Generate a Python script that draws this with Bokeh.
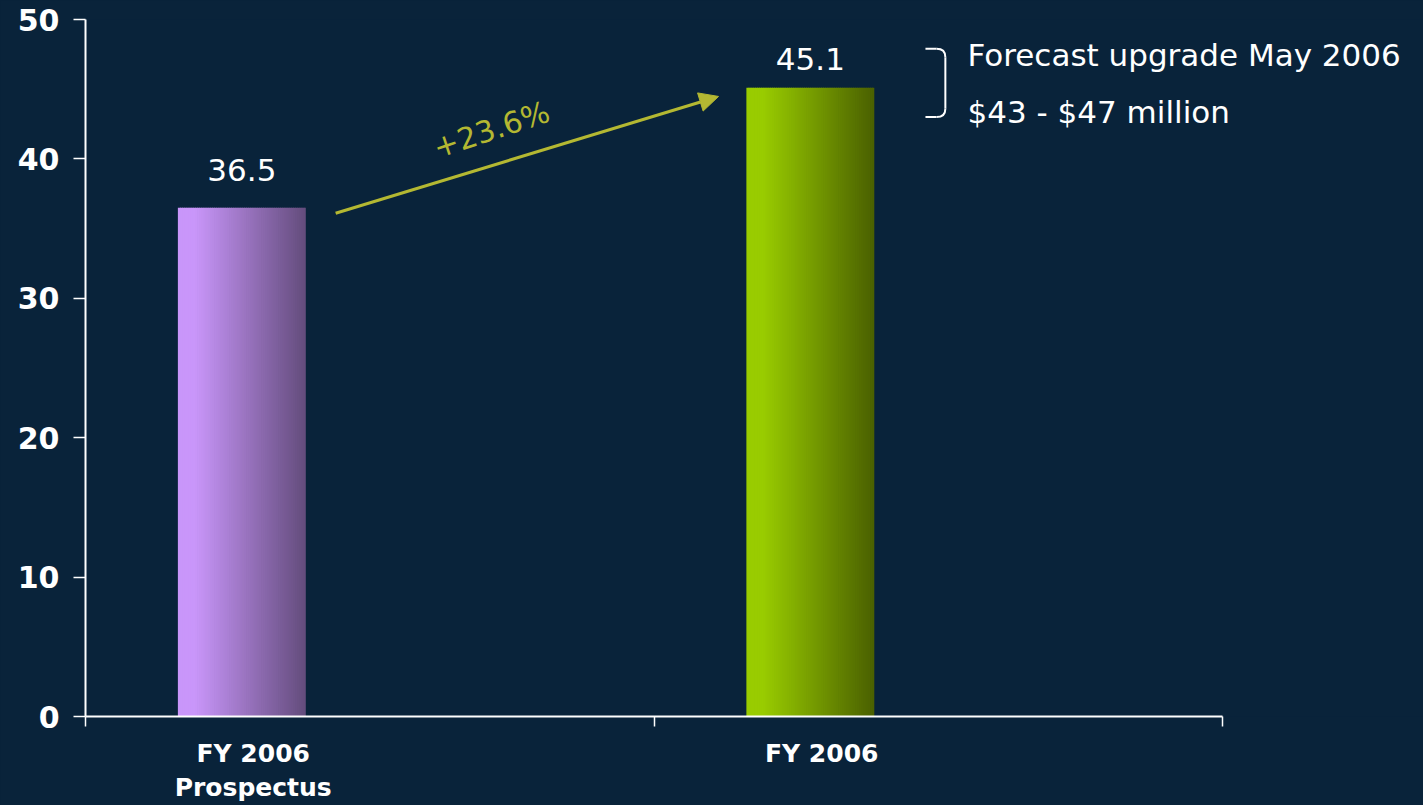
import numpy as np
from bokeh.plotting import figure
from bokeh.models import Range1d, FixedTicker, Label, Arrow, NormalHead, ColumnDataSource, LinearAxis
from bokeh.core.properties import value
from bokeh.embed import file_html
from bokeh.resources import INLINE

# ---- data ----
categories = ["FY 2006\nProspectus", "FY 2006"]
values = [36.5, 45.1]
y_ticks = [0, 10, 20, 30, 40, 50]
forecast_title = "Forecast upgrade May 2006"
forecast_low = 43
forecast_high = 47

# ---- style ----
BG = "#09233a"
WHITE = "#ffffff"
OLIVE = "#b4b832"
bar_left_colors = ["#c996fa", "#99cc00"]
bar_right_colors = ["#634c7c", "#4a6000"]
bar_centers = [0.275, 1.275]
bar_width = 0.225
label_shift = 0.02
value_label_offsets = [-38, -29]

X_END = (1423 - 85) / 568.5

p = figure(width=1423, height=805, x_range=Range1d(0, X_END), y_range=Range1d(0, 50),
           output_backend="svg", toolbar_location=None,
           min_border_left=85, min_border_right=0, min_border_top=19, min_border_bottom=88)
p.background_fill_color = BG
p.border_fill_color = BG
p.outline_line_color = None
p.grid.visible = False
p.styles = {"background-color": BG}

# axes
p.yaxis.ticker = FixedTicker(ticks=y_ticks)
p.yaxis.minor_tick_line_color = None
p.yaxis.major_tick_out = 12
p.yaxis.major_tick_in = 0
p.yaxis.major_label_standoff = 14
p.yaxis.major_label_text_font = "DejaVu Sans"
p.yaxis.major_label_text_font_style = "bold"
p.yaxis.major_label_text_font_size = "30px"
p.yaxis.major_label_text_color = WHITE

p.xaxis.ticker = FixedTicker(ticks=[0, 1, 2])
p.xaxis.bounds = (0, 2)
p.xaxis.major_label_overrides = {0: "", 1: "", 2: ""}
p.xaxis.major_label_text_font_size = "0px"
p.xaxis.major_label_standoff = 0
p.xaxis.minor_tick_line_color = None
p.xaxis.major_tick_out = 10
p.xaxis.major_tick_in = 0

for ax in (p.xaxis, p.yaxis):
    ax.axis_line_color = WHITE
    ax.axis_line_width = 2
    ax.major_tick_line_color = WHITE
    ax.major_tick_line_width = 1.5

# category labels axis
label_pos = [c + label_shift for c in bar_centers]
cat_axis = LinearAxis(ticker=FixedTicker(ticks=label_pos),
                      major_label_overrides={lp: c for lp, c in zip(label_pos, categories)},
                      axis_line_color=None, major_tick_line_color=None, minor_tick_line_color=None,
                      major_tick_out=0, major_tick_in=0, major_label_standoff=12,
                      major_label_text_font="DejaVu Sans", major_label_text_font_style="bold",
                      major_label_text_font_size="25px", major_label_text_color=WHITE,
                      major_label_text_baseline="middle")
p.add_layout(cat_axis, "below")


def hex_rgb(h):
    h = h.lstrip("#")
    return np.array([int(h[i:i + 2], 16) for i in (0, 2, 4)], dtype=float)


# gradient bars built as thin vertical strips
N = 60
for xc, v, cl, cr in zip(bar_centers, values, bar_left_colors, bar_right_colors):
    a, b = hex_rgb(cl), hex_rgb(cr)
    left0 = xc - bar_width / 2
    dx = bar_width / N
    lefts, rights, cols = [], [], []
    for k in range(N):
        t = (k + 0.5) / N
        s = 0.0 if t < 0.13 else (t - 0.13) / 0.87
        c = a + (b - a) * s
        cols.append("#%02x%02x%02x" % tuple(int(round(q)) for q in c))
        lefts.append(left0 + k * dx)
        rights.append(left0 + (k + 1) * dx + (dx * 0.4 if k < N - 1 else 0))
    p.quad(left=lefts, right=rights, bottom=0, top=v, fill_color=cols, line_color=None)

# value labels
src = ColumnDataSource(dict(x=bar_centers, y=values, t=["%.1f" % v for v in values],
                            yo=value_label_offsets))
p.text(x="x", y="y", text="t", source=src, text_align="center", text_baseline="middle",
       y_offset="yo", text_color=WHITE, text_font=value("DejaVu Sans"), text_font_size="31px")

# growth arrow
growth = (values[1] / values[0] - 1) * 100
p.add_layout(Arrow(end=NormalHead(size=19, fill_color=OLIVE, line_color=OLIVE),
                   x_start=0.44, y_start=36.1, x_end=1.1135, y_end=44.48,
                   line_color=OLIVE, line_width=3))
p.text(x=[0.714], y=[42.1], text=["+%.1f%%" % growth], angle=0.32,
       text_align="center", text_baseline="middle", text_color=OLIVE,
       text_font=value("DejaVu Sans"), text_font_size="30px")

# bracket
bx0, bx1 = 1.4775, 1.5125
byt, byb = 47.9, 43.0
bxc = 1.497
p.segment(x0=[bx0, bx1, bx0], y0=[byt, byt - 0.6, byb], x1=[bxc, bx1, bxc], y1=[byt, byb + 0.6, byb],
          line_color=WHITE, line_width=2)
p.quadratic(x0=[bxc, bx1], y0=[byt, byb + 0.6], x1=[bx1, bxc], y1=[byt - 0.6, byb],
            cx=[bx1, bx1], cy=[byt, byb], line_color=WHITE, line_width=2)

p.add_layout(Label(x=1.5515, y=47.42, text=forecast_title, text_align="left",
                   text_baseline="middle", text_color=WHITE, text_font="DejaVu Sans",
                   text_font_size="31px"))
p.add_layout(Label(x=1.5515, y=43.34, text="$%d - $%d million" % (forecast_low, forecast_high),
                   text_align="left", text_baseline="middle", text_color=WHITE,
                   text_font="DejaVu Sans", text_font_size="31px"))

html = file_html(p, INLINE)
html = html.replace("<body>", '<body style="margin:0;background:%s;">' % BG, 1)
open("out.html", "w").write(html)
